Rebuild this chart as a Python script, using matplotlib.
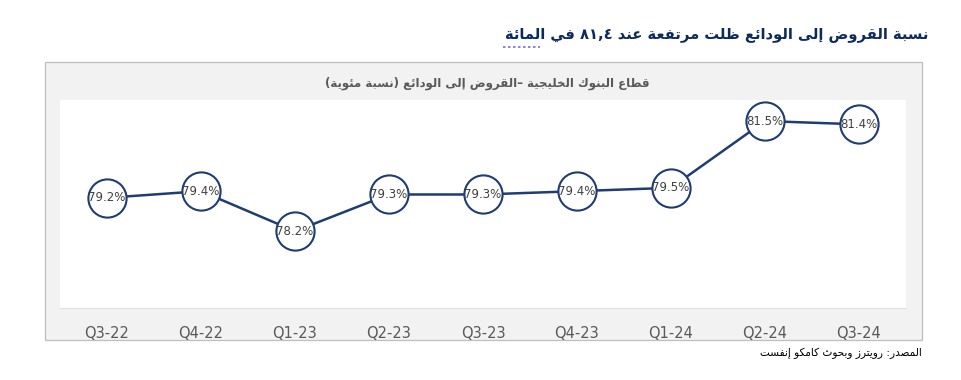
import re
import matplotlib.pyplot as plt
from matplotlib.patches import Rectangle
from matplotlib.lines import Line2D

# data
quarters = ['Q3-22', 'Q4-22', 'Q1-23', 'Q2-23', 'Q3-23', 'Q4-23', 'Q1-24', 'Q2-24', 'Q3-24']
ratio = [79.2, 79.4, 78.2, 79.3, 79.3, 79.4, 79.5, 81.5, 81.4]

title = 'نسبة القروض إلى الودائع ظلت مرتفعة عند ٨١,٤ في المائة'
subtitle = 'قطاع البنوك الخليجية –القروض إلى الودائع (نسبة مئوية)'
source = 'المصدر: رويترز وبحوث كامكو إنفست'

# minimal arabic shaping (matplotlib has no shaping / bidi)
FORMS = {
    'ا': (0xFE8D, 0xFE8E, None, None), 'إ': (0xFE87, 0xFE88, None, None),
    'ب': (0xFE8F, 0xFE90, 0xFE91, 0xFE92), 'ة': (0xFE93, 0xFE94, None, None),
    'ت': (0xFE95, 0xFE96, 0xFE97, 0xFE98), 'ج': (0xFE9D, 0xFE9E, 0xFE9F, 0xFEA0),
    'ح': (0xFEA1, 0xFEA2, 0xFEA3, 0xFEA4), 'خ': (0xFEA5, 0xFEA6, 0xFEA7, 0xFEA8),
    'د': (0xFEA9, 0xFEAA, None, None), 'ر': (0xFEAD, 0xFEAE, None, None),
    'ز': (0xFEAF, 0xFEB0, None, None), 'س': (0xFEB1, 0xFEB2, 0xFEB3, 0xFEB4),
    'ص': (0xFEB9, 0xFEBA, 0xFEBB, 0xFEBC), 'ض': (0xFEBD, 0xFEBE, 0xFEBF, 0xFEC0),
    'ط': (0xFEC1, 0xFEC2, 0xFEC3, 0xFEC4), 'ظ': (0xFEC5, 0xFEC6, 0xFEC7, 0xFEC8),
    'ع': (0xFEC9, 0xFECA, 0xFECB, 0xFECC), 'ف': (0xFED1, 0xFED2, 0xFED3, 0xFED4),
    'ق': (0xFED5, 0xFED6, 0xFED7, 0xFED8), 'ك': (0xFED9, 0xFEDA, 0xFEDB, 0xFEDC),
    'ل': (0xFEDD, 0xFEDE, 0xFEDF, 0xFEE0), 'م': (0xFEE1, 0xFEE2, 0xFEE3, 0xFEE4),
    'ن': (0xFEE5, 0xFEE6, 0xFEE7, 0xFEE8), 'ه': (0xFEE9, 0xFEEA, 0xFEEB, 0xFEEC),
    'و': (0xFEED, 0xFEEE, None, None), 'ى': (0xFEEF, 0xFEF0, 0xFBE8, 0xFBE9),
    'ي': (0xFEF1, 0xFEF2, 0xFEF3, 0xFEF4), 'ئ': (0xFE89, 0xFE8A, 0xFE8B, 0xFE8C),
    'لا': (0xFEFB, 0xFEFC, None, None), 'لإ': (0xFEF9, 0xFEFA, None, None),
}
MIRROR = {'(': ')', ')': '('}


def shape(text):
    chars = []
    i = 0
    while i < len(text):
        if text[i] == 'ل' and i + 1 < len(text) and text[i:i + 2] in FORMS:
            chars.append(text[i:i + 2])
            i += 2
        else:
            chars.append(text[i])
            i += 1
    out = ''
    for i, c in enumerate(chars):
        if c not in FORMS:
            out += c
            continue
        iso, fin, ini, med = FORMS[c]
        prev_j = i > 0 and chars[i - 1] in FORMS and FORMS[chars[i - 1]][2] is not None
        next_j = ini is not None and i + 1 < len(chars) and chars[i + 1] in FORMS
        if prev_j and next_j:
            out += chr(med)
        elif prev_j:
            out += chr(fin)
        elif next_j:
            out += chr(ini)
        else:
            out += chr(iso)
    # visual order: reverse runs, keep numbers left-to-right
    runs = re.findall(r'[0-9٠-٩][0-9٠-٩.,]*|[^0-9٠-٩]+', out)
    vis = ''
    for r in reversed(runs):
        if r[0].isdigit():
            vis += r
        else:
            vis += ''.join(MIRROR.get(ch, ch) for ch in reversed(r))
    return vis


navy = '#1f3c74'
grey = '#595959'

fig = plt.figure(figsize=(9.62, 3.8), dpi=100)
W, H = 962, 380

fig.patches.append(Rectangle((45 / W, 1 - 340 / H), (922 - 45) / W, (340 - 62) / H,
                             transform=fig.transFigure, facecolor='#f2f2f2',
                             edgecolor='#bfbfbf', lw=0.9, zorder=-5))

ax = fig.add_axes([60 / W, 1 - 308 / H, (906 - 60) / W, (308 - 100) / H])
ax.set_facecolor('white')
x = range(len(quarters))
ax.plot(x, ratio, color=navy, lw=1.8, marker='o', ms=27.5,
        mfc='white', mec=navy, mew=1.5, zorder=3, clip_on=False)
for xi, v in zip(x, ratio):
    ax.text(xi, v, f'{v:.1f}%', ha='center', va='center', fontsize=8.5,
            color='#404040', family='DejaVu Sans', zorder=4)

ax.set_xlim(-0.5, len(quarters) - 0.5)
ax.set_ylim(75.9, 82.13)
ax.set_xticks(list(x))
ax.set_xticklabels(quarters, fontsize=10.5, color=grey, family='DejaVu Sans')
ax.tick_params(axis='x', length=0, pad=13)
ax.set_yticks([])
for s in ['top', 'left', 'right']:
    ax.spines[s].set_visible(False)
ax.spines['bottom'].set_color('#e0e0e0')

fig.text(928 / W, 1 - 34 / H, shape(title), ha='right', va='center', fontsize=10.6,
         fontweight='bold', color='#0d2a5e', family='DejaVu Sans')
fig.add_artist(Line2D([503 / W, 540 / W], [1 - 47 / H, 1 - 47 / H], transform=fig.transFigure,
                      color='#7b68ee', lw=1.2, ls=(0, (1.5, 1.5))))
fig.text(487 / W, 1 - 83 / H, shape(subtitle), ha='center', va='center', fontsize=8.5,
         fontweight='bold', color=grey, family='DejaVu Sans')
fig.text(922 / W, 1 - 353 / H, shape(source), ha='right', va='center', fontsize=7.6,
         color='black', family='DejaVu Sans')

fig.savefig('out.png', dpi=100)
